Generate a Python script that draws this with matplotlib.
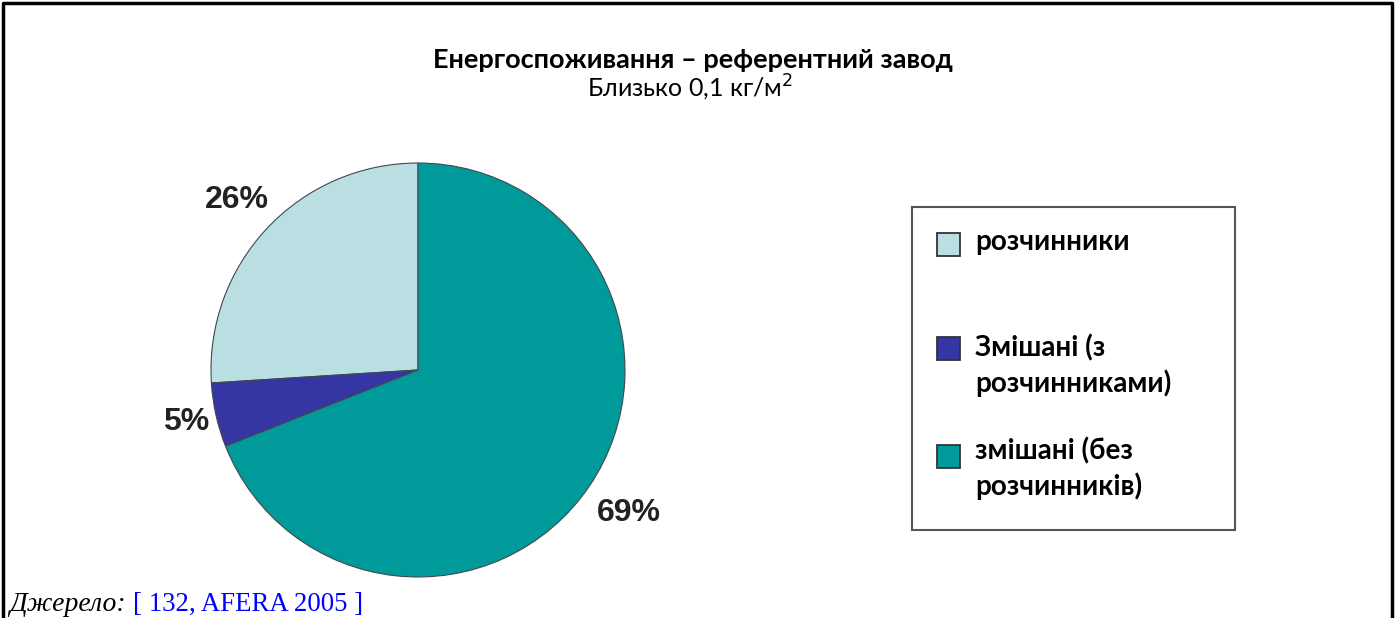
import matplotlib
matplotlib.use("Agg")
import matplotlib.pyplot as plt
from matplotlib.patches import Rectangle
import numpy as np

# data
labels = ["розчинники", "Змішані (з\nрозчинниками)", "змішані (без\nрозчинників)"]
shares = [26, 5, 69]
colors = ["#b9dfe2", "#3535a3", "#009a9a"]
label_dist = [1.20, 1.15, 1.23]

title = "Енергоспоживання – референтний завод"
subtitle = "Близько 0,1 кг/м$^2$"

W, H = 1395, 618
fig = plt.figure(figsize=(W / 100, H / 100), dpi=100)

# overlay in pixel coordinates for frame, titles and legend
ov = fig.add_axes([0, 0, 1, 1])
ov.set_xlim(0, W)
ov.set_ylim(H, 0)
ov.axis("off")

# outer frame (top, left, right)
ov.plot([3, 3, 1392, 1392], [H, 3, 3, H], color="black", lw=2.5, clip_on=False)

ov.text(693, 60, title, ha="center", va="center", fontsize=19.5, fontweight="bold",
        family="Lato")
ov.text(690, 88, subtitle, ha="center", va="center", fontsize=18, family="Lato")

# pie
cx, cy, r = 418, 370, 207
pax = fig.add_axes([(cx - r) / W, (H - cy - r) / H, 2 * r / W, 2 * r / H])
wedges, _ = pax.pie(shares, colors=colors, startangle=90, counterclock=True,
                    radius=1, wedgeprops=dict(edgecolor="#404850", linewidth=0.8))
pax.set_xlim(-1, 1)
pax.set_ylim(-1, 1)
pax.set_aspect("auto")

for w, s, d in zip(wedges, shares, label_dist):
    ang = np.deg2rad((w.theta1 + w.theta2) / 2)
    pax.text(d * np.cos(ang), d * np.sin(ang), f"{s}%", ha="center", va="center",
             fontsize=23, fontweight="bold", family="Liberation Sans", color="#222222",
             clip_on=False)

# legend box
ov.add_patch(Rectangle((912, 207), 323, 323, fill=False, edgecolor="#555555", lw=1.5))
marker_top = [233, 337, 445]
text_base = [250, 357, 460]
line_gap = 35
for lab, c, yt, yb in zip(labels, colors, marker_top, text_base):
    ov.add_patch(Rectangle((937, yt), 23, 23, facecolor=c, edgecolor="#333333", lw=1.3))
    nlines = lab.count("\n")
    ov.text(975, yb + nlines * line_gap, lab, ha="left", va="baseline", fontsize=20,
            fontweight="bold", family="Lato", linespacing=1.35)

# source
ov.text(9, 611, "Джерело:", ha="left", va="baseline", fontsize=20, style="italic",
        family="Liberation Serif")
ov.text(133, 611, "[ 132, AFERA 2005 ]", ha="left", va="baseline", fontsize=19.3,
        color="blue", family="Liberation Serif")

fig.savefig("out.png", dpi=100)
